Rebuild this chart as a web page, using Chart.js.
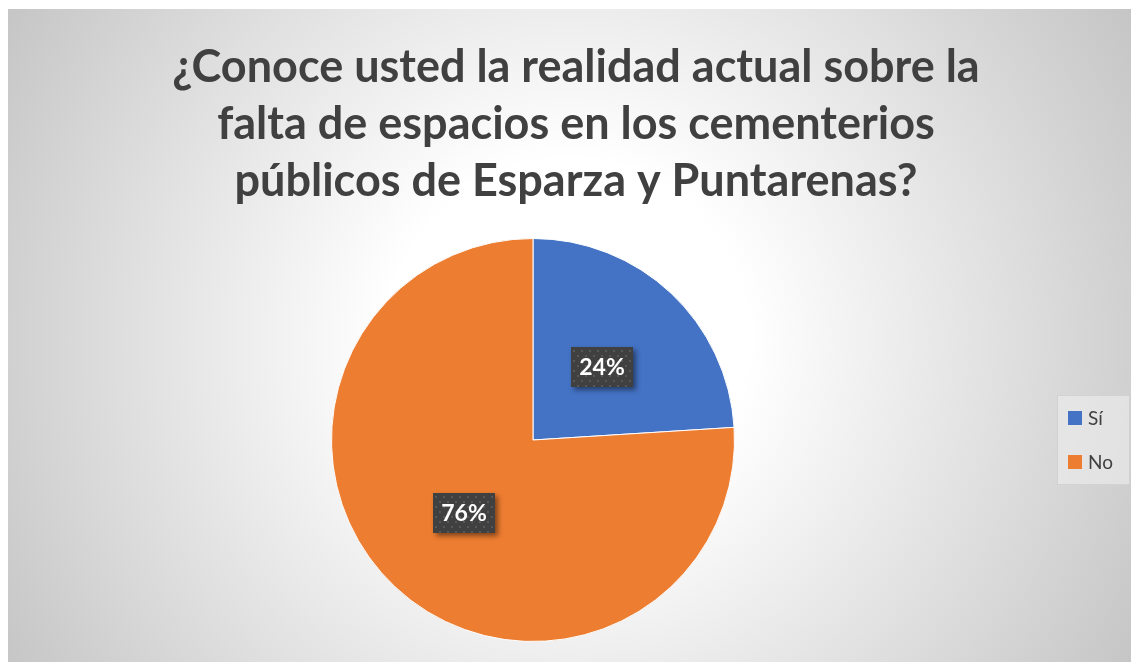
<!DOCTYPE html>
<html>
<head>
<meta charset="utf-8">
<script src="https://cdn.jsdelivr.net/npm/chart.js@4.4.0/dist/chart.umd.min.js"></script>
<style>
  html, body { margin: 0; padding: 0; background: #fff; overflow: hidden; }
  #wrap { position: absolute; left: 8px; top: 9px; width: 1123px; height: 653px; }
</style>
</head>
<body>
<div id="wrap"><canvas id="chart"></canvas></div>
<script>
const titleLines = ['¿Conoce usted la realidad actual sobre la', 'falta de espacios en los cementerios', 'públicos de Esparza y Puntarenas?'];
const labels = ['Sí', 'No'];
const values = [24, 76];
const colors = ['#4472C4', '#ED7D31'];

// radial grey background like the Office chart style
const backgroundPlugin = {
  id: 'bg',
  beforeDraw(chart) {
    const { ctx, width, height } = chart;
    ctx.save();
    const g = ctx.createRadialGradient(560, 330, 0, 560, 330, 720);
    g.addColorStop(0, '#ffffff');
    g.addColorStop(0.25, '#ffffff');
    g.addColorStop(1, '#bdbdbd');
    ctx.fillStyle = g;
    ctx.fillRect(0, 0, width, height);
    ctx.restore();
  }
};

// title is centred on the whole chart, not over the pie
const titlePlugin = {
  id: 'wideTitle',
  afterDraw(chart) {
    const { ctx } = chart;
    ctx.save();
    ctx.fillStyle = '#404040';
    ctx.font = 'bold 45px Lato';
    ctx.textAlign = 'center';
    ctx.textBaseline = 'middle';
    titleLines.forEach((line, i) => ctx.fillText(line, 568, 58.5 + i * 57));
    ctx.restore();
  }
};

// legend on the right, in its own framed box
const legendPlugin = {
  id: 'sideLegend',
  afterDraw(chart) {
    const { ctx } = chart;
    ctx.save();
    ctx.fillStyle = 'rgba(238,238,238,0.6)';
    ctx.fillRect(1049, 386, 73, 90);
    ctx.strokeStyle = '#d2d2d2';
    ctx.lineWidth = 1;
    ctx.strokeRect(1049.5, 386.5, 72, 89);
    ctx.font = '19px Lato';
    ctx.textBaseline = 'middle';
    labels.forEach((lab, i) => {
      const y = 409 + i * 44;
      ctx.fillStyle = colors[i];
      ctx.fillRect(1060, y - 7, 14, 14);
      ctx.fillStyle = '#404040';
      ctx.fillText(lab, 1080, y + 1);
    });
    ctx.restore();
  }
};

// dark percentage boxes with the dotted fill
const labelPlugin = {
  id: 'pctLabels',
  afterDatasetsDraw(chart) {
    const { ctx } = chart;
    const meta = chart.getDatasetMeta(0);
    const total = values.reduce((a, b) => a + b, 0);
    meta.data.forEach((arc, i) => {
      const p = arc.tooltipPosition();
      const w = 62, h = 40;
      const x = Math.round(p.x - w / 2), y = Math.round(p.y - h / 2);
      ctx.save();
      ctx.shadowColor = 'rgba(0,0,0,0.45)';
      ctx.shadowBlur = 5;
      ctx.shadowOffsetX = 3;
      ctx.shadowOffsetY = 3;
      ctx.fillStyle = '#404040';
      ctx.fillRect(x, y, w, h);
      ctx.restore();
      ctx.save();
      ctx.fillStyle = '#575757';
      for (let yy = 3, row = 0; yy < h - 1; yy += 5, row++) {
        for (let xx = (row % 2 ? 6 : 2); xx < w - 1; xx += 8) {
          ctx.fillRect(x + xx, y + yy, 2, 2);
        }
      }
      ctx.fillStyle = '#ffffff';
      ctx.font = 'bold 23px Lato';
      ctx.textAlign = 'center';
      ctx.textBaseline = 'middle';
      ctx.fillText(Math.round(values[i] / total * 100) + '%', x + w / 2, y + h / 2 + 1);
      ctx.restore();
    });
  }
};

new Chart(document.getElementById('chart'), {
  type: 'pie',
  data: {
    labels: labels,
    datasets: [{
      data: values,
      backgroundColor: colors,
      borderColor: '#ffffff',
      borderWidth: 1
    }]
  },
  options: {
    responsive: true,
    maintainAspectRatio: false,
    animation: false,
    layout: { padding: { left: 0, right: 73, top: 229, bottom: 20 } },
    plugins: {
      title: { display: false },
      legend: { display: false },
      tooltip: { enabled: false }
    }
  },
  plugins: [backgroundPlugin, labelPlugin, legendPlugin, titlePlugin]
});
</script>
</body>
</html>
